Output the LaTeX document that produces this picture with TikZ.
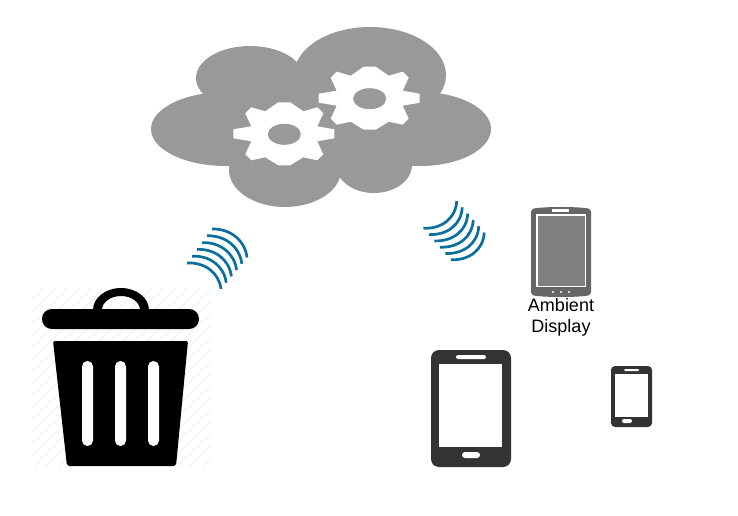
\documentclass[tikz,border=0pt]{standalone}
\usepackage{fontspec}
\setmainfont{Liberation Sans}
\usetikzlibrary{positioning}

\definecolor{cloudgray}{HTML}{999999}
\definecolor{waveblue}{HTML}{0B6F9E}
\definecolor{phonedark}{HTML}{333333}
\definecolor{tabletgray}{HTML}{666666}
\definecolor{screengray}{HTML}{808080}
\definecolor{hatchgray}{HTML}{F5F5F5}

\newcommand{\gearat}[2]{
	\begin{scope}[shift={(#1,#2)}]
		\fill [white] (-51,-5) -- (-33,-8) -- (-39,-21) -- (-33,-27) -- (-19,-23) -- (-6,-32)
			-- (6,-32) -- (19,-23) -- (33,-27) -- (39,-21) -- (33,-8) -- (50,-5)
			-- (50,4) -- (33,7) -- (39,20) -- (33,26) -- (19,23) -- (6,31)
			-- (-6,31) -- (-19,23) -- (-33,26) -- (-39,20) -- (-33,7) -- (-51,4) -- cycle;
		\fill [cloudgray] (0,0) ellipse [x radius=16.5, y radius=10.5];
	\end{scope}
}

\begin{document}
\begin{tikzpicture} [
	x=1pt, y=-1pt,
	puff/.style = {fill=cloudgray},
	wave/.style = {draw=waveblue, line width=2.7pt},
	bin/.style = {fill=black},
	slot/.style = {fill=white, rounded corners=5.4pt},
	phone/.style = {fill=phonedark},
	label/.style = {align=center, font=\fontsize{18}{21}\selectfont, inner sep=0pt},
]
\useasboundingbox (0,0) rectangle (738,516);

% cloud
\fill [puff] (226,129) ellipse [x radius=75, y radius=37];
\fill [puff] (250,78) ellipse [x radius=54, y radius=32];
\fill [puff] (370,75) ellipse [x radius=76, y radius=48];
\fill [puff] (420,129) ellipse [x radius=71, y radius=37];
\fill [puff] (285,170) ellipse [x radius=56, y radius=37];
\fill [puff] (374,165) ellipse [x radius=38, y radius=28];
\fill [puff] (226,90) rectangle (420,166);
\gearat{284.3}{134.3}
\gearat{369.7}{98.7}

% signal arcs
\foreach \n in {0,...,5} {
	\draw [wave] ({187+\n*5},{263-\n*6.8}) .. controls ({205+\n*5.1},{262-\n*6.7}) and ({219+\n*5.2},{273-\n*6.5}) .. ({221+\n*5.2},{289-\n*6.3});
	\draw [wave] ({423.3+\n*5.5},{228.3+\n*6.3}) .. controls ({442+\n*5.5},{229+\n*6.3}) and ({456+\n*5.5},{218+\n*6.3}) .. ({456.7+\n*5.5},{201+\n*6.3});
}

% faint hatching behind the bin
\begin{scope}
	\clip (32,288) rectangle (210,466);
	\foreach \s in {0,12,...,360} {
		\draw [hatchgray, line width=1.5pt] ({32+\s},288) -- ({32+\s-178},466);
	}
\end{scope}

% bin
\fill [bin] (93,310) arc [start angle=180, end angle=360, x radius=28, y radius=22] -- (140,310) arc [start angle=360, end angle=180, x radius=19, y radius=14] -- cycle;
\fill [bin, rounded corners=9.9pt] (42,309) rectangle (199,329);
\fill [bin, rounded corners=2pt] (53,341) -- (188,341) -- (176,466) -- (67,466) -- cycle;
\foreach \x in {82,115,148} {
	\fill [slot] (\x,361) rectangle ({\x+11},446);
}

% ambient display
\fill [tabletgray, rounded corners=3pt] (531,209) .. controls (545,206.5) and (577,206.5) .. (591,209) -- (591,295) .. controls (577,297.5) and (545,297.5) .. (531,295) -- cycle;
\fill [white] (536,214) rectangle (586,287);
\fill [screengray] (537.5,215.5) rectangle (584.5,285.5);
\fill [white] (552,209) rectangle (569,211.5);
\foreach \x in {553,561,569} {
	\fill [white] (\x,292) circle [radius=1.1];
}
\node [label] (ambient) at (561,317) {Ambient\\Display};

% large phone
\fill [phone, rounded corners=8pt] (431,350) rectangle (511,467);
\fill [white] (439,364) rectangle (502,447);
\fill [white, rounded corners=2pt] (456,355) rectangle (486,359);
\fill [white, rounded corners=3pt] (462,452) rectangle (480,458);

% small phone
\fill [phone, rounded corners=4pt] (611,366) rectangle (652,427);
\fill [white] (615,374) rectangle (648,417);
\fill [white, rounded corners=1pt] (624,369) rectangle (639,371);
\fill [white, rounded corners=2pt] (622,419) rectangle (632,423);
\end{tikzpicture}
\end{document}
